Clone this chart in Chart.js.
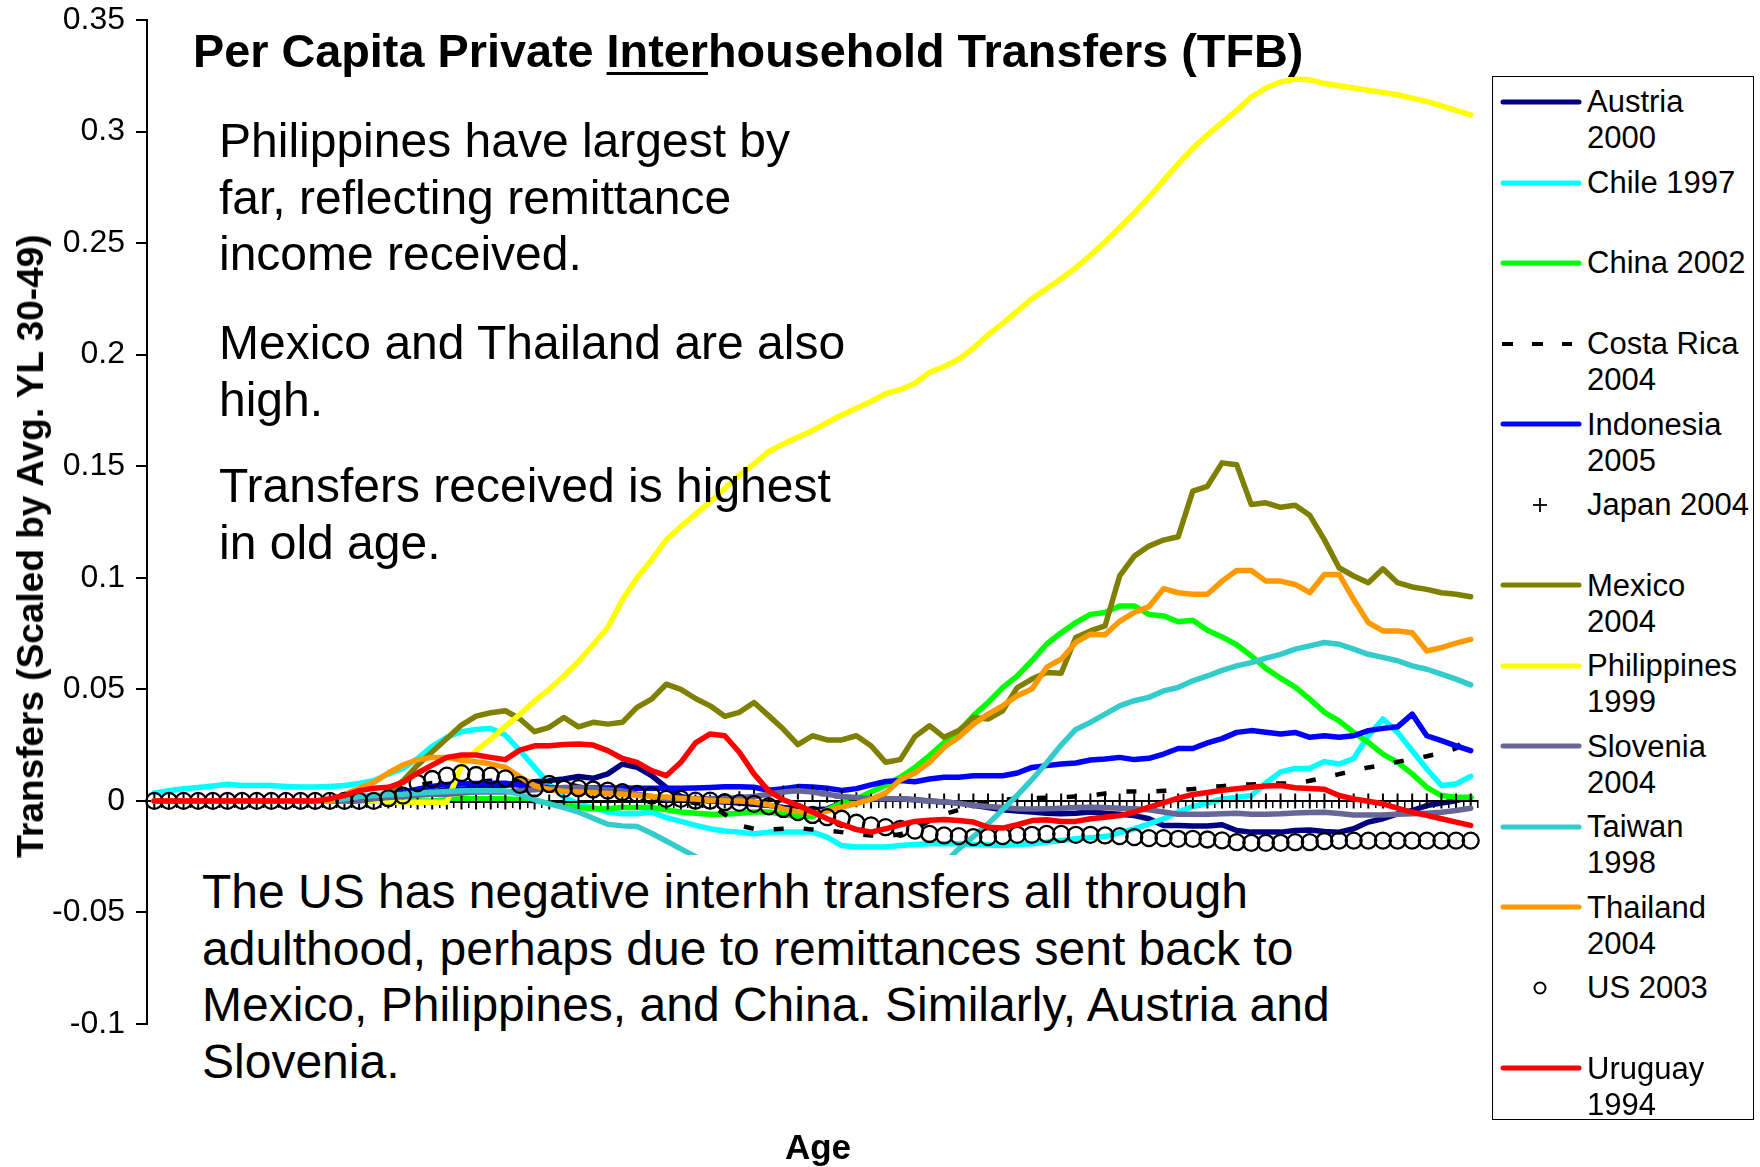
<!DOCTYPE html>
<html>
<head>
<meta charset="utf-8">
<script src="https://cdn.jsdelivr.net/npm/chart.js@4.4.1/dist/chart.umd.min.js"></script>
<style>
  html, body { margin: 0; padding: 0; background: #fff; }
  body { width: 1760px; height: 1167px; position: relative; overflow: hidden;
         font-family: "Liberation Sans", Arial, sans-serif; color: #000; }
  #chart { position: absolute; left: 0; top: 0; }
  .txt { position: absolute; white-space: nowrap; }
  #title { left: 193px; top: 28px; font-size: 46.8px; line-height: 46px; font-weight: bold; }
  #title u { text-decoration-thickness: 3px; text-underline-offset: 5px; }
  .note { font-size: 48px; line-height: 56.5px; }
  #ytitle { left: 31px; top: 546px; font-size: 37px; font-weight: bold;
            transform: translate(-50%, -50%) rotate(-90deg); }
  #xtitle { left: 818px; top: 1129px; font-size: 35px; line-height: 35px; font-weight: bold;
            transform: translateX(-50%); }
  #usbox { position: absolute; left: 149px; top: 855px; width: 1330px; height: 270px; background: #fff; }
  #legend { position: absolute; left: 1492px; top: 76px; width: 260px; height: 1042px;
            border: 1.5px solid #000; background: #fff; }
  .lg-row { position: absolute; left: 0; }
  .lg-text { position: absolute; left: 94px; font-size: 31px; line-height: 36px; white-space: nowrap; }
  .lg-mark { position: absolute; left: 6px; }
</style>
</head>
<body>
<canvas id="chart" width="1760" height="1167"></canvas>

<div id="title" class="txt">Per Capita Private <u>Inter</u>household Transfers (TFB)</div>

<div class="txt note" style="left:219px; top:113px;">Philippines have largest by<br>far, reflecting remittance<br>income received.</div>
<div class="txt note" style="left:219px; top:315px;">Mexico and Thailand are also<br>high.</div>
<div class="txt note" style="left:219px; top:458px;">Transfers received is highest<br>in old age.</div>

<div id="usbox"></div>
<div class="txt note" style="left:202px; top:864px;">The US has negative interhh transfers all through<br>adulthood, perhaps due to remittances sent back to<br>Mexico, Philippines, and China. Similarly, Austria and<br>Slovenia.</div>

<div id="ytitle" class="txt">Transfers (Scaled by Avg. YL 30-49)</div>
<div id="xtitle" class="txt">Age</div>

<div id="legend"></div>

<script>
// ages 0 .. 90
const ages = [];
for (let a = 0; a <= 90; a++) ages.push(String(a));

const yTicks = [-0.1, -0.05, 0, 0.05, 0.1, 0.15, 0.2, 0.25, 0.3, 0.35];
const yTickLabels = ['-0.1', '-0.05', '0', '0.05', '0.1', '0.15', '0.2', '0.25', '0.3', '0.35'];

const austria = [
  0, 0, 0, 0, 0, 0, 0, 0, 0, 0,
  0, 0, 0, 0, 0, 0, 0.001, 0.002, 0.003, 0.004,
  0.005, 0.005, 0.006, 0.006, 0.007, 0.0076, 0.0086, 0.0091, 0.0098, 0.0109,
  0.0101, 0.0121, 0.0165, 0.0151, 0.0113, 0.006, 0.002, 0.0005, 0, -0.0005,
  -0.001, -0.0015, -0.002, -0.003, -0.0036, -0.004, -0.0036, -0.001, 0.0005, 0.001,
  0.001, 0.001, 0.0005, 0, -0.0005, -0.001, -0.002, -0.003, -0.004, -0.0045,
  -0.005, -0.0055, -0.0058, -0.0055, -0.005, -0.0055, -0.006, -0.0066, -0.008, -0.011,
  -0.011, -0.0113, -0.0113, -0.0107, -0.0133, -0.014, -0.014, -0.014, -0.0133, -0.013,
  -0.0137, -0.014, -0.0125, -0.0095, -0.008, -0.0058, -0.0043, -0.0021, -0.001, 0.0001,
  0.0016
];
const chile = [
  0.0036, 0.0045, 0.0054, 0.006, 0.0067, 0.0075, 0.0069, 0.0069, 0.0069, 0.0065,
  0.0062, 0.0062, 0.0065, 0.0069, 0.0078, 0.009, 0.012, 0.0145, 0.019, 0.0245,
  0.0285, 0.031, 0.032, 0.0325, 0.0295, 0.0225, 0.015, 0.0075, 0.0016, -0.0013,
  -0.003, -0.005, -0.0058, -0.0058, -0.005, -0.0075, -0.0092, -0.011, -0.0125, -0.0135,
  -0.014, -0.0148, -0.014, -0.014, -0.014, -0.014, -0.0162, -0.02, -0.0207, -0.0207,
  -0.0207, -0.02, -0.0195, -0.0192, -0.0192, -0.0192, -0.0195, -0.0198, -0.02, -0.0196,
  -0.0192, -0.0185, -0.0178, -0.017, -0.0165, -0.016, -0.0143, -0.0125, -0.0103, -0.008,
  -0.005, -0.0025, -0.001, 0.0009, 0.0015, 0.0024, 0.008, 0.013, 0.0145, 0.0146,
  0.0176, 0.0165, 0.019, 0.0292, 0.0367, 0.0307, 0.0225, 0.0143, 0.0069, 0.0076,
  0.011
];
const china = [
  0, 0, 0, 0, 0, 0, 0, 0, 0, 0,
  0, 0, 0, 0, 0, 0, 0, 0, 0, 0,
  0.0005, 0.001, 0.001, 0.001, 0.001, 0.0005, 0, -0.001, -0.002, -0.003,
  -0.0035, -0.0035, -0.003, -0.003, -0.003, -0.004, -0.005, -0.0055, -0.006, -0.006,
  -0.0055, -0.005, -0.005, -0.006, -0.007, -0.007, -0.004, -0.001, 0.001, 0.004,
  0.007, 0.0106, 0.015, 0.0203, 0.0262, 0.0307, 0.0382, 0.0441, 0.0508, 0.056,
  0.0628, 0.0702, 0.0754, 0.0799, 0.0836, 0.0844, 0.0874, 0.0874, 0.0836, 0.0829,
  0.0803, 0.081, 0.0765, 0.0735, 0.07, 0.065, 0.0594, 0.055, 0.051, 0.0456,
  0.0397, 0.0359, 0.0307, 0.0262, 0.021, 0.0173, 0.0121, 0.0061, 0.0024, 0.0016,
  0.0016
];
const costaRica = [
  0, 0, 0, 0, 0, 0, 0, 0, 0, 0,
  0, 0, 0, 0, 0.001, 0.002, 0.004, 0.006, 0.007, 0.008,
  0.0083, 0.0085, 0.0087, 0.009, 0.009, 0.009, 0.009, 0.0088, 0.008, 0.0065,
  0.0052, 0.0045, 0.004, 0.003, 0.002, 0.001, 0, -0.001, -0.002, -0.006,
  -0.011, -0.0125, -0.0128, -0.0125, -0.0122, -0.0128, -0.0133, -0.014, -0.015, -0.0155,
  -0.0158, -0.015, -0.0125, -0.009, -0.006, -0.004, -0.002, -0.0005, 0.0005, 0.001,
  0.0012, 0.0014, 0.0016, 0.002, 0.0024, 0.0033, 0.0042, 0.0042, 0.0042, 0.0045,
  0.0048, 0.0053, 0.0061, 0.0066, 0.0072, 0.0074, 0.0076, 0.0078, 0.0079, 0.009,
  0.0105, 0.012, 0.0135, 0.015, 0.016, 0.0175, 0.0188, 0.02, 0.0215, 0.0235,
  0.0307
];
const indonesia = [
  0, 0, 0, 0, 0, 0, 0, 0, 0, 0,
  0, 0, 0, 0, 0, 0.001, 0.003, 0.0039, 0.0052, 0.0065,
  0.0074, 0.0076, 0.0078, 0.0079, 0.0079, 0.007, 0.0066, 0.006, 0.0058, 0.0058,
  0.0058, 0.0058, 0.0058, 0.0057, 0.0057, 0.0057, 0.0057, 0.0058, 0.006, 0.0063,
  0.0063, 0.0061, 0.0048, 0.0054, 0.0064, 0.0062, 0.0057, 0.0047, 0.0055, 0.0072,
  0.0087, 0.0091, 0.0086, 0.0098, 0.0106, 0.0106, 0.0113, 0.0113, 0.0113, 0.0125,
  0.015, 0.0158, 0.0165, 0.017, 0.0183, 0.0188, 0.0195, 0.0185, 0.0191, 0.021,
  0.0235, 0.0235, 0.026, 0.0279, 0.0307, 0.0315, 0.0308, 0.03, 0.0307, 0.0285,
  0.0292, 0.0285, 0.0292, 0.0315, 0.0325, 0.0332, 0.0389, 0.0292, 0.027, 0.0247,
  0.0225
];
const japan = [
  0, 0, 0, 0, 0, 0, 0, 0, 0, 0,
  0, 0, 0, 0, 0, 0, 0, -0.0005, -0.0005, -0.0005,
  -0.0005, -0.0005, -0.0005, -0.0005, -0.0005, -0.0005, -0.0005, -0.0005, -0.0005, -0.0005,
  -0.0005, -0.0005, -0.0005, -0.0005, -0.0005, -0.0005, -0.0005, -0.0005, -0.0005, 0,
  0.001, 0.002, 0.003, 0.0035, 0.004, 0.0035, 0.0025, 0.0015, 0.0005, 0,
  0, 0, 0, 0, 0, 0, 0, 0, 0, 0,
  0, 0, 0, 0, 0, 0, 0, 0, 0, 0,
  0, 0, 0, 0, 0, 0, 0, 0, 0, 0,
  0, 0, 0, 0, 0, 0, 0, 0, 0, 0,
  0
];
const mexico = [
  0, 0, 0, 0, 0, 0, 0, 0, 0, 0,
  0, 0, 0, 0, 0.0005, 0.001, 0.004, 0.009, 0.016, 0.022,
  0.028, 0.034, 0.038, 0.0395, 0.0404, 0.0367, 0.031, 0.033, 0.0374, 0.0332,
  0.0352, 0.0344, 0.0352, 0.0419, 0.0456, 0.0523, 0.05, 0.0459, 0.0426, 0.0379,
  0.0397, 0.0441, 0.0382, 0.0322, 0.0252, 0.0292, 0.0273, 0.0273, 0.0292, 0.0247,
  0.0173, 0.0185, 0.0288, 0.0337, 0.0285, 0.0315, 0.0374, 0.0367, 0.0404, 0.0508,
  0.0546, 0.0575, 0.0572, 0.0732, 0.0762, 0.0784, 0.1008, 0.1097, 0.1142, 0.1169,
  0.1184, 0.1388, 0.141, 0.1515, 0.1507, 0.1328, 0.1336, 0.1316, 0.1325, 0.128,
  0.117, 0.1045, 0.1008, 0.0978, 0.104, 0.0978, 0.0959, 0.0948, 0.0933, 0.0926,
  0.0915
];
const philippines = [
  0, 0, 0, 0, 0, 0, 0, 0, 0, 0,
  0, 0, 0, 0, 0, 0, -0.0005, -0.0006, -0.0006, -0.0006,
  -0.0006, 0.0158, 0.0225, 0.0277, 0.0334, 0.0388, 0.0448, 0.05, 0.056, 0.0625,
  0.07, 0.0777, 0.09, 0.1, 0.108, 0.117, 0.123, 0.1285, 0.134, 0.14,
  0.146, 0.151, 0.1565, 0.16, 0.163, 0.166, 0.1695, 0.173, 0.176, 0.179,
  0.1825, 0.1843, 0.1872, 0.192, 0.1947, 0.198, 0.2029, 0.2089, 0.214, 0.2195,
  0.225, 0.2295, 0.234, 0.239, 0.2445, 0.2505, 0.257, 0.2635, 0.2705, 0.278,
  0.2855, 0.2925, 0.2985, 0.304, 0.3095, 0.3155, 0.3195, 0.3222, 0.3235, 0.3232,
  0.3215, 0.3205, 0.3195, 0.3185, 0.3175, 0.3165, 0.315, 0.3135, 0.3115, 0.3095,
  0.3075
];
const slovenia = [
  0, 0, 0, 0, 0, 0, 0, 0, 0, 0,
  0, 0, 0, 0, 0, 0.001, 0.0015, 0.002, 0.0025, 0.003,
  0.003, 0.0035, 0.004, 0.004, 0.004, 0.0045, 0.005, 0.0055, 0.006, 0.006,
  0.0055, 0.005, 0.0045, 0.003, 0.002, 0.001, 0.001, 0.001, 0.001, 0.001,
  0.0015, 0.002, 0.003, 0.004, 0.0045, 0.004, 0.003, 0.002, 0.0015, 0.001,
  0.001, 0.001, 0.0005, 0, -0.0005, -0.001, -0.002, -0.0025, -0.003, -0.0035,
  -0.0036, -0.0035, -0.0033, -0.003, -0.0028, -0.003, -0.0033, -0.0035, -0.004, -0.005,
  -0.006, -0.006, -0.006, -0.0058, -0.0055, -0.006, -0.006, -0.0058, -0.0054, -0.0052,
  -0.0051, -0.0057, -0.0063, -0.0063, -0.0063, -0.006, -0.0058, -0.0055, -0.0051, -0.0043,
  -0.0033
];
const taiwan = [
  0, 0, 0, 0, 0, 0, 0, 0, 0, 0,
  0, 0, 0, 0.001, 0.002, 0.0024, 0.0027, 0.003, 0.0035, 0.0039,
  0.0042, 0.0045, 0.0046, 0.0046, 0.0045, 0.003, 0.0005, -0.0013, -0.003, -0.005,
  -0.0078, -0.0105, -0.0112, -0.0115, -0.0145, -0.018, -0.0215, -0.025, -0.029, -0.033,
  -0.037, -0.04, -0.043, -0.045, -0.047, -0.048, -0.048, -0.048, -0.047, -0.046,
  -0.045, -0.043, -0.04, -0.035, -0.028, -0.0215, -0.016, -0.0103, -0.004, 0.0025,
  0.0095, 0.017, 0.025, 0.032, 0.0352, 0.0389, 0.0426, 0.0449, 0.0464, 0.0493,
  0.0508, 0.0538, 0.056, 0.0585, 0.0605, 0.062, 0.064, 0.0657, 0.068, 0.0695,
  0.071, 0.0702, 0.068, 0.0657, 0.0643, 0.0628, 0.0605, 0.059, 0.0568, 0.0546,
  0.052
];
const thailand = [
  0, 0, 0, 0, 0, 0, 0, 0, 0, 0,
  0, 0, 0, 0.003, 0.0055, 0.0083, 0.0125, 0.0161, 0.0185, 0.0195,
  0.0195, 0.0182, 0.0176, 0.0165, 0.015, 0.0108, 0.0068, 0.005, 0.0043, 0.004,
  0.0036, 0.0033, 0.003, 0.0025, 0.002, 0.0017, 0.0012, 0.0008, 0.0002, 0,
  0, -0.0005, -0.0017, -0.0036, -0.0048, -0.0056, -0.0045, -0.0028, -0.0012, 0.0007,
  0.0035, 0.0095, 0.0125, 0.0173, 0.024, 0.0285, 0.0344, 0.0389, 0.0426, 0.0471,
  0.0501, 0.0598, 0.0635, 0.071, 0.0747, 0.0745, 0.0805, 0.0845, 0.087, 0.0951,
  0.0933, 0.0926, 0.0926, 0.0985, 0.1033, 0.1033, 0.0985, 0.0985, 0.097, 0.0933,
  0.1015, 0.1015, 0.0903, 0.0799, 0.0762, 0.0762, 0.0754, 0.0672, 0.0687, 0.0707,
  0.0724
];
const us = [
  0, 0, 0, 0, 0, 0, 0, 0, 0, 0,
  0, 0, 0, 0, 0, 0, 0.0012, 0.0024, 0.008, 0.0098,
  0.0113, 0.0124, 0.0116, 0.0113, 0.0101, 0.0072, 0.0057, 0.0076, 0.0054, 0.0057,
  0.0051, 0.0046, 0.0039, 0.0031, 0.0024, 0.0009, 0.0009, 0.0001, 0.0001, -0.0006,
  -0.0009, -0.0013, -0.0024, -0.0036, -0.005, -0.0063, -0.0073, -0.008, -0.0098, -0.011,
  -0.0118, -0.0125, -0.0133, -0.0148, -0.0155, -0.0158, -0.0162, -0.0162, -0.0158, -0.0152,
  -0.0152, -0.0148, -0.0148, -0.0152, -0.0152, -0.0155, -0.0158, -0.0162, -0.0167, -0.0167,
  -0.017, -0.017, -0.0173, -0.0177, -0.0185, -0.0188, -0.0188, -0.0188, -0.0185, -0.0185,
  -0.018, -0.0178, -0.0178, -0.0178, -0.0178, -0.0178, -0.0178, -0.0178, -0.0178, -0.0178,
  -0.0178
];
const uruguay = [
  0, 0, 0, 0, 0, 0, 0, 0, 0, 0,
  0, 0, 0.001, 0.0024, 0.0046, 0.0057, 0.0061, 0.0083, 0.0125, 0.016,
  0.0195, 0.0206, 0.0206, 0.0195, 0.0185, 0.0228, 0.0247, 0.0247, 0.0253, 0.0255,
  0.025, 0.0225, 0.019, 0.0173, 0.0136, 0.0113, 0.0173, 0.026, 0.03, 0.0292,
  0.0218, 0.0121, 0.0045, 0.0005, -0.002, -0.005, -0.008, -0.0105, -0.0128, -0.014,
  -0.0125, -0.0107, -0.0092, -0.0087, -0.0083, -0.0088, -0.0095, -0.0118, -0.0122, -0.0107,
  -0.0088, -0.0085, -0.0092, -0.0092, -0.008, -0.0073, -0.0066, -0.0051, -0.0028, -0.0009,
  0.0012, 0.0029, 0.0038, 0.0048, 0.0054, 0.0061, 0.0067, 0.0069, 0.0059, 0.0056,
  0.0052, 0.0024, 0.0009, -0.0002, -0.0013, -0.0032, -0.0051, -0.0065, -0.008, -0.0095,
  -0.011
];

const seriesNames = ['Austria\n2000', 'Chile 1997', 'China 2002', 'Costa Rica\n2004', 'Indonesia\n2005',
  'Japan 2004', 'Mexico\n2004', 'Philippines\n1999', 'Slovenia\n2004', 'Taiwan\n1998',
  'Thailand\n2004', 'US 2003', 'Uruguay\n1994'];
const seriesData = [austria, chile, china, costaRica, indonesia, japan, mexico, philippines,
  slovenia, taiwan, thailand, us, uruguay];
const seriesColors = ['#000080', '#00FFFF', '#00FF00', '#000000', '#0000FF', '#000000', '#808000',
  '#FFFF00', '#666699', '#33CCCC', '#FF9900', '#000000', '#FF0000'];
// line | dash | cross | circle
const seriesKinds = ['line', 'line', 'line', 'dash', 'line', 'cross', 'line', 'line',
  'line', 'line', 'line', 'circle', 'line'];

const datasets = seriesData.map((d, i) => {
  const kind = seriesKinds[i];
  const ds = {
    label: seriesNames[i].replace('\n', ' '),
    data: d,
    borderColor: seriesColors[i],
    backgroundColor: seriesColors[i],
    // later series sit on top, as in the original
    order: seriesData.length - 1 - i,
    tension: 0,
    fill: false
  };
  if (kind === 'line' || kind === 'dash') {
    ds.borderWidth = kind === 'dash' ? 4.5 : 5.5;
    ds.pointRadius = 0;
    ds.borderJoinStyle = 'round';
    ds.borderCapStyle = kind === 'dash' ? 'butt' : 'round';
    if (kind === 'dash') ds.borderDash = [10, 20];
  } else {
    ds.showLine = false;
    ds.pointStyle = kind === 'cross' ? 'cross' : 'circle';
    ds.pointRadius = kind === 'cross' ? 7.5 : 8;
    ds.pointBorderWidth = kind === 'cross' ? 2 : 2.3;
    ds.pointBorderColor = '#000';
    ds.pointBackgroundColor = 'rgba(0,0,0,0)';
  }
  return ds;
});

new Chart(document.getElementById('chart').getContext('2d'), {
  type: 'line',
  data: { labels: ages, datasets: datasets },
  options: {
    responsive: false,
    animation: false,
    devicePixelRatio: 1,
    layout: { padding: { left: 0, top: 20, right: 282, bottom: 143 } },
    plugins: { legend: { display: false }, tooltip: { enabled: false }, title: { display: false } },
    scales: {
      x: {
        type: 'category',
        position: { y: 0 },
        offset: true,
        grid: { display: true, offset: true, drawOnChartArea: false, drawTicks: true,
                tickLength: 6, color: '#000', lineWidth: 1.5 },
        border: { display: true, color: '#000', width: 2 },
        ticks: { display: false }
      },
      y: {
        min: -0.1,
        max: 0.35,
        afterBuildTicks: (s) => { s.ticks = yTicks.map(v => ({ value: v })); },
        afterFit: (s) => { s.width = 147; s.paddingTop = 0; s.paddingBottom = 0; },
        grid: { drawOnChartArea: false, drawTicks: true, tickLength: 11, color: '#000', lineWidth: 2 },
        border: { display: true, color: '#000', width: 2 },
        ticks: {
          color: '#000',
          padding: 11,
          font: { family: '"Liberation Sans", Arial, sans-serif', size: 32 },
          callback: (v) => yTickLabels[yTicks.indexOf(v)]
        }
      }
    }
  }
});

// legend box, drawn as html so that the two-line names wrap as in the original
const legend = document.getElementById('legend');
seriesNames.forEach((name, i) => {
  const cy = 101 + i * 80.53 - 76;   // row centre inside the box
  const row = document.createElement('div');
  row.className = 'lg-row';
  const kind = seriesKinds[i];
  let svg = '';
  if (kind === 'line') {
    svg = `<line x1="4" y1="8" x2="80" y2="8" stroke="${seriesColors[i]}" stroke-width="5" stroke-linecap="round"/>`;
  } else if (kind === 'dash') {
    svg = `<rect x="3" y="6" width="11" height="4" fill="#000"/><rect x="33" y="6" width="11" height="4" fill="#000"/><rect x="63" y="6" width="10" height="4" fill="#000"/>`;
  } else if (kind === 'cross') {
    svg = `<line x1="34" y1="8" x2="48" y2="8" stroke="#000" stroke-width="1.8"/><line x1="41" y1="1" x2="41" y2="15" stroke="#000" stroke-width="1.8"/>`;
  } else {
    svg = `<circle cx="41" cy="8" r="5.5" fill="none" stroke="#000" stroke-width="2"/>`;
  }
  row.innerHTML = `<svg class="lg-mark" style="top:${cy - 8}px" width="86" height="16">${svg}</svg>` +
    `<div class="lg-text" style="top:${cy - 17.6}px">${name.replace('\n', '<br>')}</div>`;
  legend.appendChild(row);
});
</script>
</body>
</html>
